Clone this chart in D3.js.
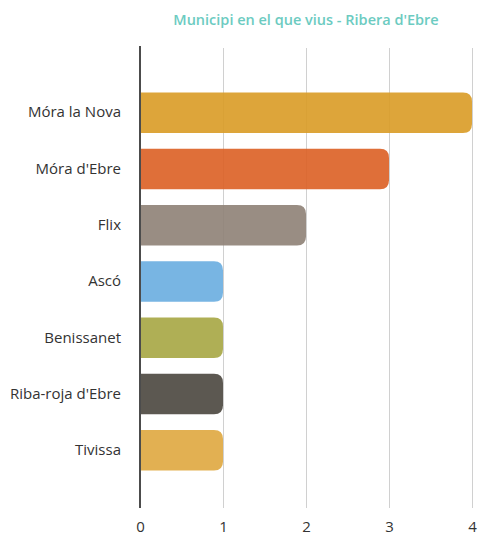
<!DOCTYPE html>
<html lang="ca">
<head>
  <meta charset="UTF-8">
  <title>Municipi en el que vius - Ribera d'Ebre</title>
  <script src="https://d3js.org/d3.v7.min.js"></script>
  <style>
    body { margin: 0; background: #fff; }
    svg { font-family: "Open Sans", Lato, sans-serif; }
  </style>
</head>
<body>
  <svg width="479" height="537"></svg>
  <script>
    const municipis = ["Móra la Nova", "Móra d'Ebre", "Flix", "Ascó", "Benissanet", "Riba-roja d'Ebre", "Tivissa"];
    const respostes = [4, 3, 2, 1, 1, 1, 1];
    const colors = ["#d99b25", "#db5f24", "#8e8176", "#69ade0", "#a6a643", "#4a463e", "#dfa73f"];
    const ticks = [0, 1, 2, 3, 4];

    const svg = d3.select("svg");
    const font = '"Open Sans", Lato, sans-serif';

    const x = d3.scaleLinear().domain([0, 4]).range([140, 472]);
    const y = d3.scaleBand().domain(municipis).range([84.5, 478.5]).paddingInner(0.28).paddingOuter(0.14);

    // titol
    svg.append("text")
       .attr("x", 306).attr("y", 25)
       .attr("text-anchor", "middle")
       .attr("fill", "#6ccbc1")
       .style("font-size", "14.5px")
       .style("font-weight", "600")
       .text("Municipi en el que vius - Ribera d'Ebre");

    // linies de graella
    svg.append("g")
       .selectAll("line")
       .data(ticks.slice(1))
       .join("line")
       .attr("x1", d => x(d) + 0.5).attr("x2", d => x(d) + 0.5)
       .attr("y1", 48).attr("y2", 508)
       .attr("stroke", "#d0d0d0")
       .attr("stroke-width", 1);

    // barres amb la punta dreta arrodonida
    const r = 9;
    svg.append("g")
       .selectAll("path")
       .data(municipis)
       .join("path")
       .attr("d", (d, i) => {
         const x0 = x(0) + 1, x1 = x(respostes[i]);
         const y0 = y(d), h = y.bandwidth();
         return `M${x0},${y0}H${x1 - r}Q${x1},${y0} ${x1},${y0 + r}V${y0 + h - r}Q${x1},${y0 + h} ${x1 - r},${y0 + h}H${x0}Z`;
       })
       .attr("fill", (d, i) => colors[i])
       .attr("opacity", 0.9);

    // eix y
    const yAxis = svg.append("g")
       .attr("transform", "translate(121,0)")
       .call(d3.axisLeft(y).tickSize(0).tickPadding(0))
       .attr("font-family", font);
    yAxis.select(".domain").remove();
    yAxis.selectAll("text")
         .attr("fill", "#333")
         .style("font-size", "15px");

    // linia del zero
    svg.append("line")
       .attr("x1", x(0)).attr("x2", x(0))
       .attr("y1", 46).attr("y2", 508)
       .attr("stroke", "#111")
       .attr("stroke-width", 1.5);

    // eix x
    const xAxis = svg.append("g")
       .attr("transform", "translate(0,508)")
       .call(d3.axisBottom(x).tickValues(ticks).tickFormat(d3.format("d")).tickSize(0).tickPadding(13))
       .attr("font-family", font);
    xAxis.select(".domain").remove();
    xAxis.selectAll("text")
         .attr("fill", "#333")
         .style("font-size", "15px");
  </script>
</body>
</html>
